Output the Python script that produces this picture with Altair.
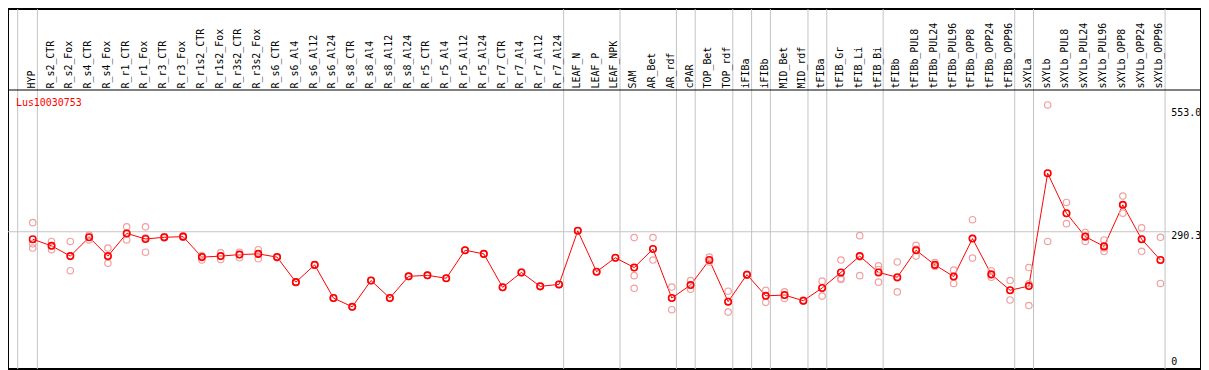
import altair as alt
import pandas as pd

# ---------------- data ----------------
columns = [
    "HYP", "R_s2_CTR", "R_s2_Fox", "R_s4_CTR", "R_s4_Fox", "R_r1_CTR", "R_r1_Fox",
    "R_r3_CTR", "R_r3_Fox", "R_r1s2_CTR", "R_r1s2_Fox", "R_r3s2_CTR", "R_r3s2_Fox",
    "R_s6_CTR", "R_s6_Al4", "R_s6_Al12", "R_s6_Al24", "R_s8_CTR", "R_s8_Al4",
    "R_s8_Al12", "R_s8_Al24", "R_r5_CTR", "R_r5_Al4", "R_r5_Al12", "R_r5_Al24",
    "R_r7_CTR", "R_r7_Al4", "R_r7_Al12", "R_r7_Al24", "LEAF_N", "LEAF_P", "LEAF_NPK",
    "SAM", "AR_Bet", "AR_rdf", "cPAR", "TOP_Bet", "TOP_rdf", "iFIBa", "iFIBb",
    "MID_Bet", "MID_rdf", "tFIBa", "tFIB_Gr", "tFIB_Li", "tFIB_Bi", "tFIBb",
    "tFIBb_PUL8", "tFIBb_PUL24", "tFIBb_PUL96", "tFIBb_OPP8", "tFIBb_OPP24",
    "tFIBb_OPP96", "sXYLa", "sXYLb", "sXYLb_PUL8", "sXYLb_PUL24", "sXYLb_PUL96",
    "sXYLb_OPP8", "sXYLb_OPP24", "sXYLb_OPP96",
]

mean_values = [
    273.1, 258.1, 234.5, 277.6, 234.5, 286.5, 273.8, 277.6, 279.1, 232.2,
    234.5, 238.0, 239.6, 232.2, 174.9, 214.4, 138.5, 118.4, 178.6, 138.5,
    188.2, 190.5, 183.8, 247.9, 239.6, 163.0, 197.2, 165.2, 169.7, 292.5,
    198.7, 230.7, 208.3, 250.8, 138.5, 168.2, 225.5, 130.2, 192.0, 143.6,
    145.2, 132.4, 161.5, 197.2, 234.5, 197.2, 186.0, 247.9, 214.4, 187.6,
    274.7, 192.7, 156.3, 165.9, 424.3, 332.7, 279.1, 256.8, 351.9, 273.1,
    225.5,
]

rep_a = [
    311.1, 268.0, 268.0, 282.7, 253.0, 301.5, 301.5, 279.0, 281.0, 235.8,
    241.8, 243.4, 249.2, 233.0, 174.9, 214.4, 138.5, 118.4, 178.6, 138.5,
    188.2, 190.5, 183.8, 247.9, 239.6, 163.0, 197.2, 165.2, 169.7, 292.5,
    198.7, 230.7, 276.9, 276.9, 163.7, 178.6, 232.2, 154.1, 193.0, 156.3,
    152.5, 133.0, 177.1, 225.5, 281.4, 212.1, 221.1, 259.0, 219.5, 202.3,
    317.8, 201.0, 178.6, 208.3, 580.6, 357.3, 288.7, 271.5, 372.0, 299.2,
    277.6,
]

rep_b = [
    262.6, 249.2, 201.0, 271.5, 217.9, 271.5, 243.4, 276.0, 278.0, 225.5,
    226.9, 230.7, 228.4, 231.0, 174.9, 214.4, 138.5, 118.4, 178.6, 138.5,
    188.2, 190.5, 183.8, 247.9, 239.6, 163.0, 197.2, 165.2, 169.7, 292.5,
    198.7, 230.7, 189.8, 225.5, 111.7, 158.5, 221.1, 106.3, 191.0, 128.6,
    137.6, 131.0, 142.9, 180.9, 189.8, 174.8, 152.5, 234.5, 214.4, 171.9,
    230.0, 186.0, 134.0, 121.3, 268.0, 308.8, 268.0, 245.6, 332.7, 245.6,
    171.9,
]

rep_c = [
    253.0, 258.1, 234.5, 277.6, 232.9, 286.5, 276.5, 278.0, 278.0, 232.2,
    234.5, 238.0, 239.6, 232.0, 174.9, 214.4, 138.5, 118.4, 178.6, 138.5,
    188.2, 190.5, 183.8, 247.9, 239.6, 163.0, 197.2, 165.2, 169.7, 292.5,
    198.7, 230.7, 160.8, 250.8, 138.5, 168.2, 225.5, 130.2, 192.0, 143.6,
    145.2, 133.0, 161.5, 183.8, 232.9, 203.9, 184.4, 250.1, 210.6, 188.2,
    275.3, 191.2, 156.3, 171.1, 424.3, 332.3, 279.8, 253.0, 351.3, 274.2,
    225.5,
]

separator_after = [
    "HYP", "R_r7_Al24", "LEAF_NPK", "AR_rdf", "cPAR", "TOP_rdf", "iFIBa",
    "iFIBb", "MID_rdf", "tFIBa", "tFIB_Bi", "tFIBb_OPP96", "sXYLa", "sXYLb_OPP96",
]
separator_before = ["HYP"]

gene_name = "Lus10030753"
reference_value = [290.3]
scale_labels_top = ["553.0"]
scale_values_top = [553.0]
scale_labels_low = ["290.3", "0"]
scale_values_low = [290.3, 0.0]

# ---------------- tables ----------------
means_df = pd.DataFrame({"col": columns, "value": mean_values})
reps_df = pd.DataFrame({
    "col": columns * 3,
    "value": rep_a + rep_b + rep_c,
})
cols_df = pd.DataFrame({"col": columns})
sep_df = pd.DataFrame({"col": separator_after})
sep0_df = pd.DataFrame({"col": separator_before})
ref_df = pd.DataFrame({"v": reference_value})
top_lab_df = pd.DataFrame({"v": scale_values_top, "t": scale_labels_top})
low_lab_df = pd.DataFrame({"v": scale_values_low, "t": scale_labels_low})
title_df = pd.DataFrame({"t": [gene_name]})

# ---------------- layout ----------------
W, H = 1200, 362
SX = 1200 / 1206
SY = 362 / 369
FONT = "DejaVu Sans Mono"
GRAY = "#c4c4c4"
RED = "#ff0000"
PINK = "#f0a0a0"

xscale = alt.Scale(type="point", domain=columns, range=[25 * SX, (25 + 19 * 60) * SX], padding=0)
yscale = alt.Scale(domain=[-23.9, 800.3], nice=False, zero=False)

X = alt.X("col:N", scale=xscale, axis=None)

sep_rules = alt.Chart(sep_df).mark_rule(color=GRAY, strokeWidth=1, xOffset=4.7 * SX).encode(x=X)
sep0_rules = alt.Chart(sep0_df).mark_rule(color=GRAY, strokeWidth=1, xOffset=-15.2 * SX).encode(x=X)

ref_rule = alt.Chart(ref_df).mark_rule(color=GRAY, strokeWidth=1).encode(
    y=alt.Y("v:Q", scale=yscale, axis=None),
    x=alt.value(0),
    x2=alt.value(1169),
)

header_rule = alt.Chart(title_df).mark_rule(color="black", strokeWidth=1).encode(
    y=alt.value(83 * SY), x=alt.value(0), x2=alt.value(W)
)

line = alt.Chart(means_df).mark_line(color=RED, strokeWidth=1).encode(
    x=X, y=alt.Y("value:Q", scale=yscale, axis=None)
)

reps = alt.Chart(reps_df).mark_point(
    shape="circle", filled=False, size=42, color=PINK, strokeWidth=1.2, opacity=1
).encode(x=X, y=alt.Y("value:Q", scale=yscale, axis=None))

means = alt.Chart(means_df).mark_point(
    shape="circle", filled=False, size=42, color=RED, strokeWidth=1.6, opacity=1
).encode(x=X, y=alt.Y("value:Q", scale=yscale, axis=None))

col_labels = alt.Chart(cols_df).mark_text(
    angle=270, align="left", baseline="middle", font=FONT, fontSize=10,
    color="black", dy=-1
).encode(x=X, y=alt.value(81.5 * SY), text="col:N")

title = alt.Chart(title_df).mark_text(
    align="left", baseline="middle", font=FONT, fontSize=10, color=RED
).encode(x=alt.value(8 * SX), y=alt.value(96.7 * SY), text="t:N")

top_lab = alt.Chart(top_lab_df).mark_text(
    align="left", baseline="middle", font=FONT, fontSize=10, color="black", dy=-4
).encode(x=alt.value(1176 * SX), y=alt.Y("v:Q", scale=yscale, axis=None), text="t:N")

low_lab = alt.Chart(low_lab_df).mark_text(
    align="left", baseline="middle", font=FONT, fontSize=10, color="black", dy=4
).encode(x=alt.value(1176 * SX), y=alt.Y("v:Q", scale=yscale, axis=None), text="t:N")

chart = alt.layer(
    sep_rules, sep0_rules, ref_rule, header_rule, line, reps, means,
    col_labels, title, top_lab, low_lab,
).properties(
    width=W, height=H,
    autosize=alt.AutoSizeParams(type="none"),
    padding=0,
    background="white",
).configure_view(
    stroke="black", strokeWidth=2, fill="white"
)

chart.save("out.html", embed_options={"renderer": "svg", "actions": False})
